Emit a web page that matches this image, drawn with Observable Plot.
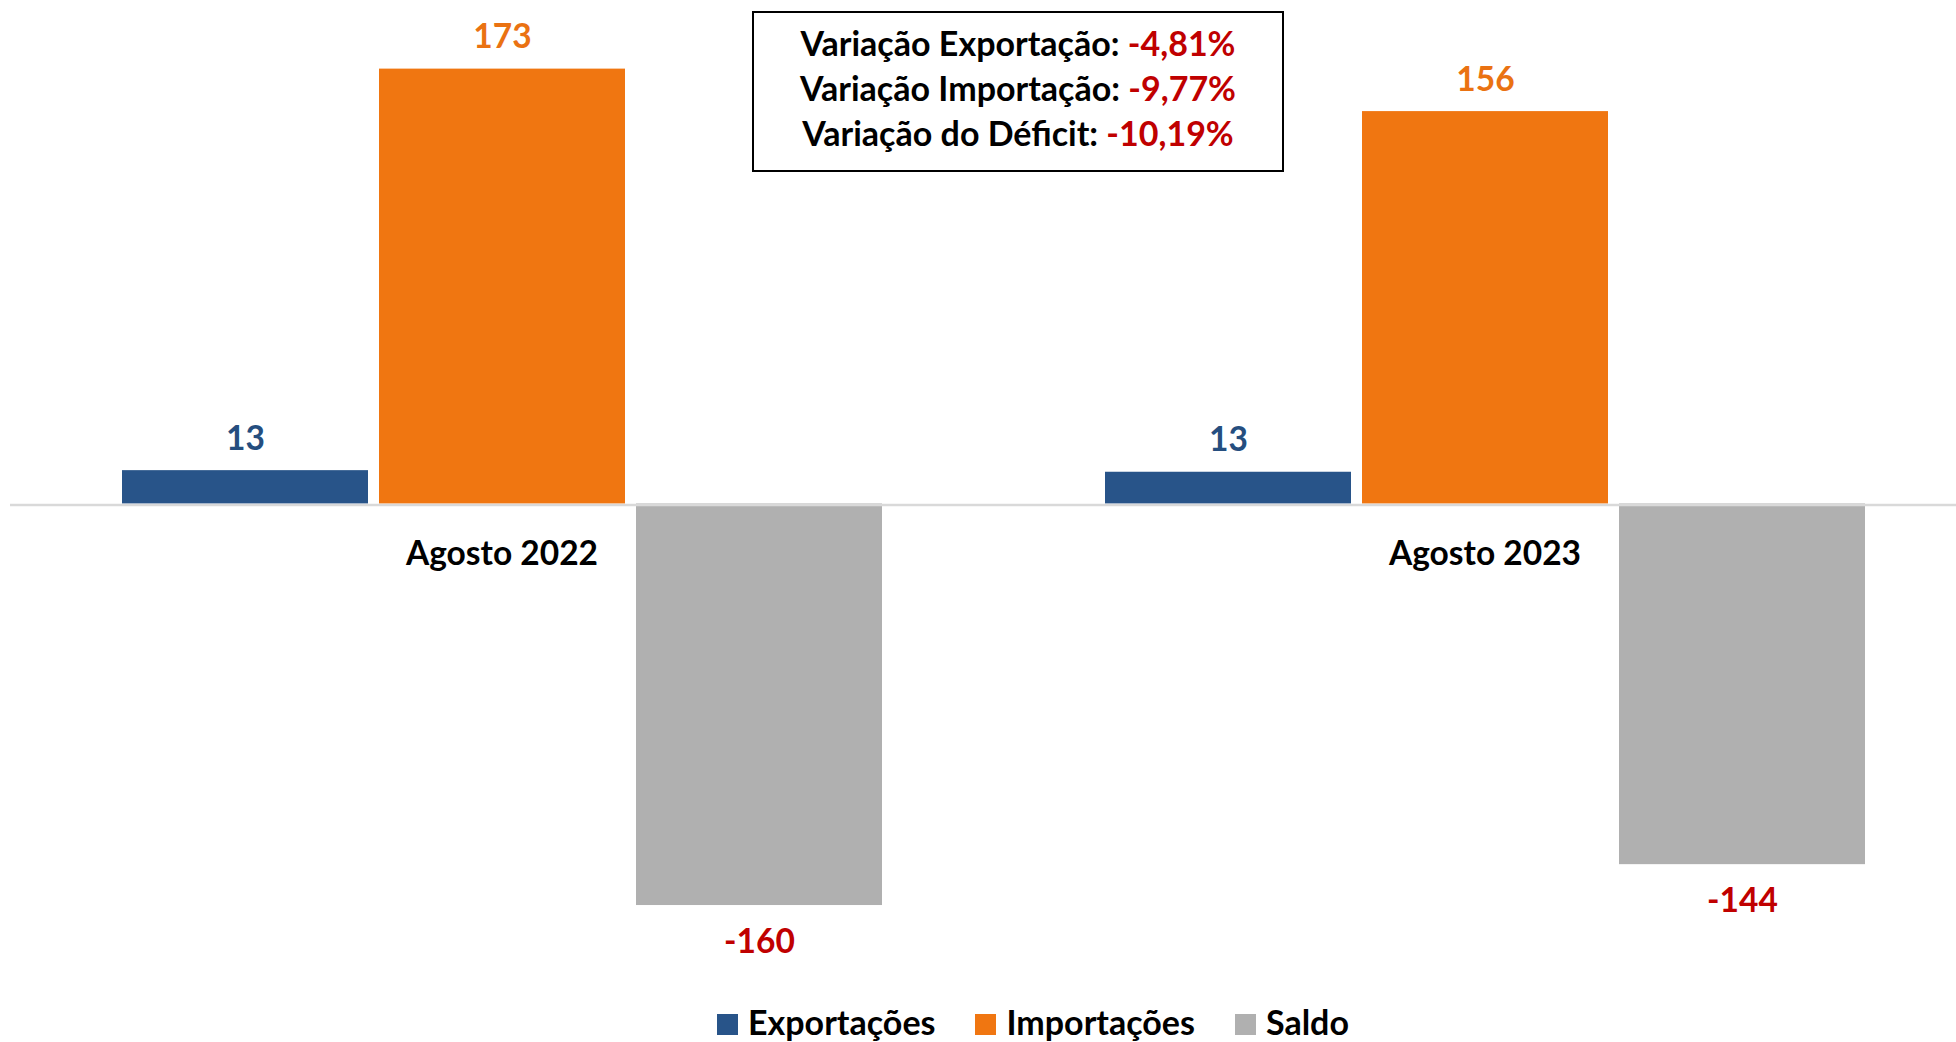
<!DOCTYPE html>
<html>
<head>
<meta charset="utf-8">
<script src="https://cdn.jsdelivr.net/npm/d3@7"></script>
<script src="https://cdn.jsdelivr.net/npm/@observablehq/plot@0.6"></script>
<style>
  html, body { margin: 0; padding: 0; background: #fff; overflow: hidden; }
  #wrap { position: relative; width: 1956px; height: 1042px; font-family: Lato, "Open Sans", sans-serif; }
  #chart svg { display: block; }
  #box { position: absolute; left: 752px; top: 11px; width: 532px; height: 161px; box-sizing: border-box;
         border: 2px solid #000; text-align: center; font-weight: 700; font-size: 34px; line-height: 45px;
         padding-top: 7px; color: #000; white-space: nowrap; }
  #box .v { color: #c00000; }
  #legend { display: flex; padding-left: 717px; height: 37px; line-height: 37px; font-size: 34px; font-weight: 700; color: #000; white-space: nowrap; }
  #legend .item { margin-right: 40px; }
  #legend .sw { display: inline-block; width: 21px; height: 21px; vertical-align: baseline; margin-right: 10px; }
  #source { position: absolute; left: 0; top: 1037px; font-size: 20px; color: #7f7f7f; white-space: nowrap; }
</style>
</head>
<body>
<div id="wrap">
  <div id="chart"></div>
  <div id="legend"></div>
  <div id="box"></div>
  <div id="source"></div>
</div>
<script>
// ---- Data ----
const periods = ["Agosto 2022", "Agosto 2023"];
const series = ["Exportações", "Importações", "Saldo"];
const exportacoes = [13.3, 12.66];
const importacoes = [173.4, 156.46];
const saldo = [-160.1, -143.8];
const barColors = ["#285489", "#f07611", "#b0b0b0"];
const labelColors = ["#254e7f", "#ea7212", "#c00000"];
const variacaoRotulos = ["Variação Exportação:", "Variação Importação:", "Variação do Déficit:"];
const variacaoValores = ["-4,81%", "-9,77%", "-10,19%"];
const fonte = "Fonte: MDIC/Comex Stat";

// ---- Build table ----
const valuesBySeries = [exportacoes, importacoes, saldo];
const data = periods.flatMap((p, i) => series.map((s, j) => ({
  period: p, serie: s, value: valuesBySeries[j][i], idx: j
})));
const fmt = v => String(Math.round(v));

const k = 2.508, y0 = 503.5, lim = 180;
const font = {fontFamily: "Lato, 'Open Sans', sans-serif", fontWeight: 700, fontSize: 33.5};

const chart = Plot.plot({
  width: 1956,
  height: 1003,
  margin: 0,
  fx: {domain: periods, range: [10, 1976], padding: 0, axis: null},
  x: {domain: series, paddingInner: 0.0447, paddingOuter: 0.431, axis: null},
  y: {domain: [-lim, lim], range: [y0 + lim * k, y0 - lim * k], axis: null},
  color: {type: "identity"},
  marks: [
    Plot.barY(data, {fx: "period", x: "serie", y: "value", fill: d => barColors[d.idx]}),
    Plot.text(data.filter(d => d.value >= 0), {
      fx: "period", x: "serie", y: "value", text: d => fmt(d.value),
      fill: d => labelColors[d.idx], lineAnchor: "bottom", dy: -21, ...font
    }),
    Plot.text(data.filter(d => d.value < 0), {
      fx: "period", x: "serie", y: "value", text: d => fmt(d.value),
      fill: d => labelColors[d.idx], lineAnchor: "bottom", dy: 47.5, ...font
    }),
    Plot.text(periods, {
      fx: d => d, y: () => 0, text: d => d, fill: "#000",
      lineAnchor: "bottom", dy: 60.5, ...font
    }),
    Plot.ruleY([0], {stroke: "#d9d9d9", strokeWidth: 2.5, dy: 1})
  ]
});
document.getElementById("chart").appendChild(chart);

// ---- Legend ----
const legend = document.getElementById("legend");
series.forEach((s, i) => {
  const item = document.createElement("span");
  item.className = "item";
  const sw = document.createElement("span");
  sw.className = "sw";
  sw.style.background = barColors[i];
  item.appendChild(sw);
  item.appendChild(document.createTextNode(s));
  legend.appendChild(item);
});

// ---- Annotation box ----
const box = document.getElementById("box");
variacaoRotulos.forEach((r, i) => {
  const line = document.createElement("div");
  line.appendChild(document.createTextNode(r + " "));
  const v = document.createElement("span");
  v.className = "v";
  v.textContent = variacaoValores[i];
  line.appendChild(v);
  box.appendChild(line);
});

document.getElementById("source").textContent = fonte;
</script>
</body>
</html>
